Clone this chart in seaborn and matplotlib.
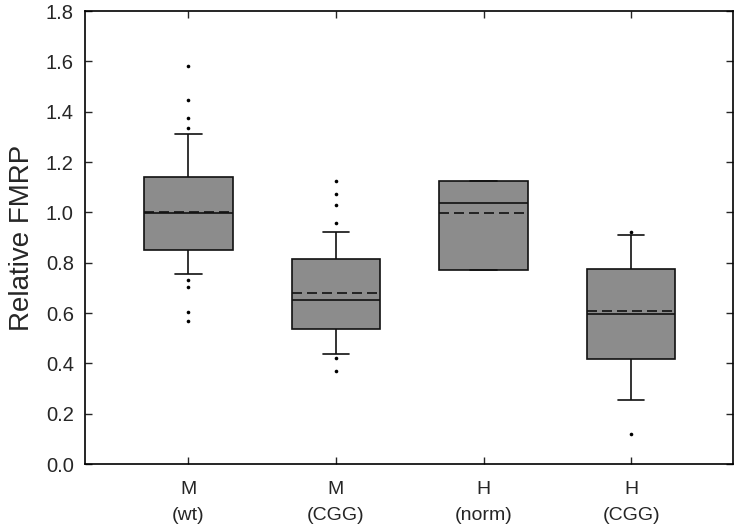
import numpy as np
import pandas as pd
import seaborn as sns
import matplotlib
matplotlib.use("Agg")
import matplotlib.pyplot as plt
from matplotlib.ticker import FormatStrFormatter

# groups and box summaries
groups = ["M\n(wt)", "M\n(CGG)", "H\n(norm)", "H\n(CGG)"]
whis_lo = [0.756, 0.436, 0.770, 0.254]
q1 = [0.850, 0.538, 0.770, 0.418]
median = [0.997, 0.652, 1.038, 0.596]
q3 = [1.139, 0.816, 1.123, 0.775]
whis_hi = [1.310, 0.922, 1.123, 0.909]
means = [1.001, 0.678, 0.998, 0.607]

# points outside the whiskers
outliers = [
    [1.581, 1.447, 1.375, 1.336, 0.733, 0.703, 0.603, 0.568],
    [1.126, 1.073, 1.029, 0.956, 0.422, 0.371],
    [],
    [0.924, 0.118],
]

# build long tables
box_df = pd.DataFrame({
    "group": np.repeat(groups, 5),
    "value": np.ravel(np.column_stack([whis_lo, q1, median, q3, whis_hi])),
})
out_df = pd.DataFrame({
    "group": [g for g, o in zip(groups, outliers) for _ in o],
    "value": [v for o in outliers for v in o],
})

sns.set_style("ticks")
plt.rcParams["font.family"] = ["Liberation Sans", "DejaVu Sans"]

fig, ax = plt.subplots(figsize=(7.37, 5.27), dpi=100)
fig.subplots_adjust(left=0.1153, right=0.9946, top=0.979, bottom=0.1195)

lw = 1.2
sns.boxplot(data=box_df, x="group", y="value", order=groups, ax=ax,
            whis=(0, 100), showfliers=False, width=0.6, color="#8c8c8c",
            saturation=1, linecolor="#111111", linewidth=lw,
            medianprops=dict(color="#111111", linewidth=lw),
            capwidths=0.18)

sns.stripplot(data=out_df, x="group", y="value", order=groups, ax=ax,
              jitter=False, color="black", size=2.6, linewidth=0)

# mean lines (dashed)
for i, m in enumerate(means):
    ax.hlines(m, i - 0.3, i + 0.3, colors="#111111", linestyles=(0, (6, 3)),
              linewidth=lw, zorder=5)

ax.set_xlim(-0.70, 3.69)
ax.set_ylim(0, 1.8)
ax.set_yticks(np.arange(0, 1.81, 0.2))
ax.yaxis.set_major_formatter(FormatStrFormatter("%.1f"))
ax.set_xlabel("")
ax.set_ylabel("Relative FMRP", fontsize=20, labelpad=8)

ax.tick_params(direction="in", top=True, right=True, length=5, width=1,
               labelsize=14.5, pad=8)
ax.tick_params(axis="x", pad=12, labelsize=14)
for lab in ax.get_xticklabels():
    lab.set_linespacing(1.75)
for s in ax.spines.values():
    s.set_linewidth(1.2)
    s.set_color("black")

fig.savefig("out.png", dpi=100)
